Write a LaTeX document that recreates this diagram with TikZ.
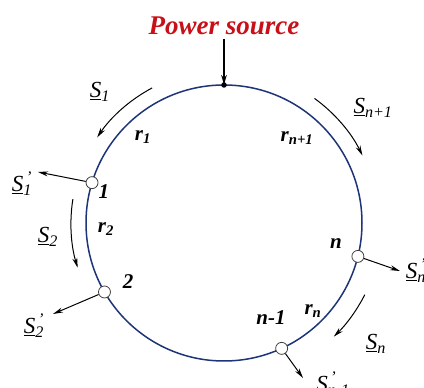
\documentclass[tikz,border=0pt]{standalone}
\usepackage{fontspec}
\setmainfont{Liberation Serif}
\usetikzlibrary{arrows.meta}
\definecolor{ringblue}{RGB}{30,52,120}
\definecolor{pwred}{RGB}{200,16,24}
\newcommand\Sl[1]{\underline{S}\textsubscript{#1}}
\newcommand\Slp[1]{\underline{S}\rlap{\textsuperscript{\,'}}\textsubscript{#1}}
\newcommand\rl[1]{r\textsubscript{#1}}
\begin{document}
\begin{tikzpicture}[x=1pt,y=1pt,
  ring/.style={draw=ringblue, line width=1.5pt},
  bus/.style={circle, draw=black!75, fill=white, inner sep=0pt, minimum size=12pt, line width=0.8pt},
  flow/.style={-{Stealth[length=10pt,width=5pt]}, line width=1pt},
  lbl/.style={font=\fontsize{23}{23}\selectfont\itshape, inner sep=0pt},
  num/.style={font=\fontsize{21}{21}\selectfont\bfseries\itshape, inner sep=0pt}]
\useasboundingbox (0,0) rectangle (424,388);
\coordinate (c) at (224,165);
\draw[ring] (c) circle (138pt);
% power source
\node[font=\fontsize{27}{27}\selectfont\bfseries\itshape, text=pwred, inner sep=0pt] (ps) at (224,362) {Power source};
\node[circle, fill=black, inner sep=0pt, minimum size=5.5pt] (top) at (224,303) {};
\coordinate (pstart) at (224,349);
\draw[line width=2.5pt, -{Stealth[length=10pt,width=5.5pt]}] (pstart) -- (top.center);
% buses
\path (c) ++(163:138pt) node[bus] (b1) {};
\path (c) ++(210:138pt) node[bus] (b2) {};
\path (c) ++(-14:138pt) node[bus] (bn) {};
\path (c) ++(-65.3:138pt) node[bus] (bn1) {};
% outgoing load arrows
\coordinate (s1p) at (38,216);
\coordinate (s2p) at (53,74);
\coordinate (snp) at (400,117);
\coordinate (sn1p) at (303,10);
\draw[flow] (b1) -- (s1p);
\draw[flow] (b2) -- (s2p);
\draw[flow] (bn) -- (snp);
\draw[flow] (bn1) -- (sn1p);
% flow arcs
\draw[flow] (c) ++(118:153pt) arc[start angle=118, end angle=146, radius=153pt];
\draw[flow] (c) ++(171:153pt) arc[start angle=171, end angle=197, radius=153pt];
\draw[flow] (c) ++(54:154pt) arc[start angle=54, end angle=26, radius=154pt];
\draw[flow] (c) ++(-27:158pt) arc[start angle=-27, end angle=-46, radius=158pt];
% labels
\node[lbl] (lS1) at (100,296) {\Sl{1}};
\node[lbl] (lS1p) at (22,204) {\Slp{1}};
\node[lbl] (lS2) at (48,151) {\Sl{2}};
\node[lbl] (lS2p) at (34,62) {\Slp{2}};
\node[lbl] (lSn1) at (373,280) {\Sl{n+1}};
\node[lbl] (lSnp) at (416,117) {\Slp{n}};
\node[lbl] (lSn) at (376,44) {\Sl{n}};
\node[lbl] (lSn1p) at (333,4) {\Slp{n-1}};
\node[num] (lr1) at (143,251) {\rl{1}};
\node[num] (lr2) at (106,159) {\rl{2}};
\node[num] (lrn1) at (297,250) {\rl{n+1}};
\node[num] (lrn) at (313,77) {\rl{n}};
\node[num] (n1) at (104,196) {1};
\node[num] (n2) at (128,106) {2};
\node[num] (nn) at (336,144) {n};
\node[num] (nn1) at (271,70) {n-1};
\end{tikzpicture}
\end{document}
